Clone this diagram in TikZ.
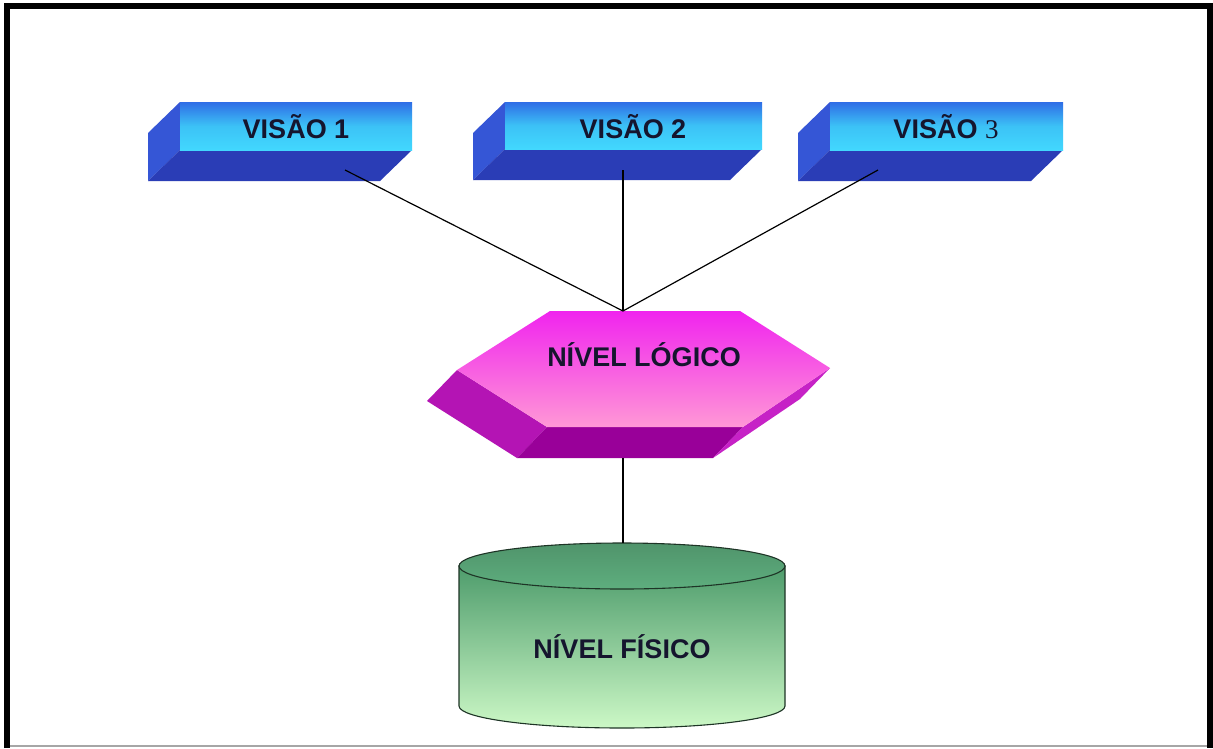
\documentclass[tikz,border=0pt]{standalone}
\usepackage{fontspec}
\setmainfont{Liberation Sans}
\newfontfamily\serifthree{Liberation Serif}
\begin{document}
\begin{tikzpicture}[x=1pt,y=-1pt,
  lbl/.style={font=\fontsize{27}{30}\selectfont\bfseries, text=labelc, inner sep=0pt},
  conn/.style={draw=black, line width=1.2pt},
  frontface/.style={top color=boxtop, bottom color=boxbot, middle color=boxmid},
  sideface/.style={fill=boxside},
  botface/.style={fill=boxbottom},
]
\definecolor{labelc}{HTML}{15152E}
\definecolor{boxtop}{HTML}{2F6DE6}
\definecolor{boxmid}{HTML}{3CC2F6}
\definecolor{boxbot}{HTML}{42D8FE}
\definecolor{boxside}{HTML}{3556D6}
\definecolor{boxbottom}{HTML}{2A3DB6}
\definecolor{hextop}{HTML}{F024EE}
\definecolor{hexbot}{HTML}{FF98D6}
\definecolor{hexleft}{HTML}{B414B4}
\definecolor{hexbottom}{HTML}{990099}
\definecolor{hexright}{HTML}{C622C6}
\definecolor{cyltop}{HTML}{4E9C6C}
\definecolor{cylbot}{HTML}{CCF8C6}
\definecolor{cylcap}{HTML}{5EAE7E}
\definecolor{cylline}{HTML}{1E3426}

\useasboundingbox (0,0) rectangle (1213,748);
\fill[white] (0,0) rectangle (1213,748);

% frame
\draw[black, line width=6pt] (7,748) -- (7,6) -- (1210,6) -- (1210,748);
\draw[gray!70, line width=2pt] (10,746) -- (1207,746);

% ---- box 1
\fill[sideface] (180,102) -- (180,150) -- (148,181) -- (148,133) -- cycle;
\fill[botface] (180,150) -- (412,150) -- (380,181) -- (148,181) -- cycle;
\shade[frontface] (180,102) rectangle (412,150);
% ---- box 2
\fill[sideface] (505,102) -- (505,149) -- (473,180) -- (473,133) -- cycle;
\fill[botface] (505,149) -- (762,149) -- (730,180) -- (473,180) -- cycle;
\shade[frontface] (505,102) rectangle (762,149);
% ---- box 3
\fill[sideface] (830,102) -- (830,150) -- (798,181) -- (798,133) -- cycle;
\fill[botface] (830,150) -- (1063,150) -- (1031,181) -- (798,181) -- cycle;
\shade[frontface] (830,102) rectangle (1063,150);

% ---- hexagon prism
\fill[hexleft] (457,370) -- (547,427) -- (517,458) -- (427,401) -- cycle;
\fill[hexbottom] (547,427) -- (743,427) -- (713,458) -- (517,458) -- cycle;
\fill[hexright] (743,427) -- (830,368) -- (800,399) -- (713,458) -- cycle;
\shade[top color=hextop, bottom color=hexbot] (550,311) -- (740,311) -- (830,368) -- (743,427) -- (547,427) -- (457,370) -- cycle;

% ---- cylinder
\shade[top color=cyltop, bottom color=cylbot, draw=cylline, line width=1.1pt]
  (459,566) -- (459,706) arc[start angle=180, end angle=360, x radius=163pt, y radius=22pt] -- (785,566) -- cycle;
\shade[top color=cylcap!85!black, bottom color=cylcap, draw=cylline, line width=1.1pt]
  (622,566) ellipse [x radius=163pt, y radius=23pt];

% ---- labels
\node[lbl] (v1) at (296,127) {VISÃO 1};
\node[lbl] (v2) at (633,127) {VISÃO 2};
\node[lbl] (v3) at (946,127) {VISÃO {\serifthree\mdseries 3}};
\node[lbl] (logico) at (644,355) {NÍVEL LÓGICO};
\node[lbl] (fisico) at (622,647) {NÍVEL FÍSICO};

% ---- connectors
\coordinate (v1a) at (345,170);
\coordinate (v2a) at (623,170);
\coordinate (v3a) at (878,170);
\coordinate (lgt) at (623,311);
\coordinate (lgb) at (623,458);
\coordinate (fst) at (623,543);
\draw[conn] (v1a) -- (lgt);
\draw[conn] (v2a) -- (lgt);
\draw[conn] (v3a) -- (lgt);
\draw[conn] (lgb) -- (fst);
\end{tikzpicture}
\end{document}
